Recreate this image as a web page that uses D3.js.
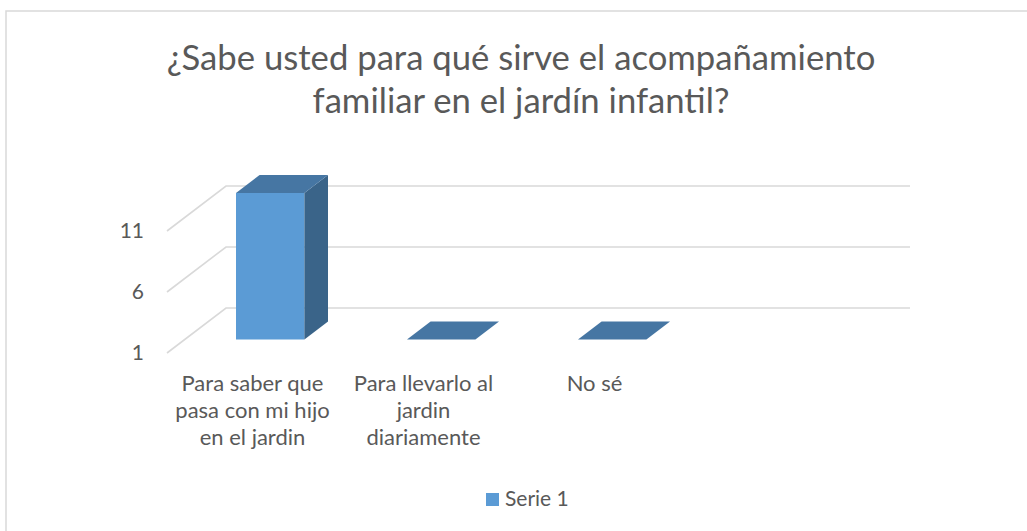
<!DOCTYPE html>
<html>
<head>
<meta charset="utf-8">
<script src="https://cdn.jsdelivr.net/npm/d3@7.9.0/dist/d3.min.js"></script>
<style>
  html, body { margin: 0; padding: 0; background: #fff; }
  svg { display: block; font-family: Lato, "Open Sans", sans-serif; }
</style>
</head>
<body>
<svg id="chart" width="1027" height="531"></svg>
<script>
// data
const titleLines = ["¿Sabe usted para qué sirve el acompañamiento", "familiar en el jardín infantil?"];
const categories = ["Para saber que pasa con mi hijo en el jardin", "Para llevarlo al jardin diariamente", "No sé", ""];
const serie1 = [13, 0, 0, null];
const yTicks = [1, 6, 11];
const seriesName = "Serie 1";

const svg = d3.select('#chart');
const textColor = '#595959';
const gridColor = '#d9d9d9';

// chart frame (only top and left edges show)
svg.append('rect')
    .attr('x', 6).attr('y', 11)
    .attr('width', 1040).attr('height', 540)
    .attr('fill', 'none')
    .attr('stroke', gridColor)
    .attr('stroke-width', 1.5);

// title, sized so the first line has the same width as the picture
const title = svg.append('text')
    .attr('text-anchor', 'middle')
    .attr('fill', textColor)
    .attr('font-size', 32);
titleLines.forEach((line, i) => {
    title.append('tspan')
        .attr('x', 521)
        .attr('y', 70 + i * 43)
        .text(line);
});
let w = title.select('tspan').node().getComputedTextLength();
title.attr('font-size', 32 * 709 / w);

// 3D scales: front floor plane + depth offset
const x = d3.scaleBand()
    .domain(d3.range(categories.length))
    .range([167, 851])
    .paddingInner(0.6)
    .paddingOuter(0.3);

const y = d3.scaleLinear()
    .domain([1, 11])
    .range([353, 231]);

const depthX = 59, depthY = -45;
const barFront = 0.3, barBack = 0.7;

// gridlines: side wall diagonal then back wall
const grid = svg.append('g');
yTicks.forEach(t => {
    grid.append('polyline')
        .attr('points', [
            [x.range()[0], y(t)],
            [x.range()[0] + depthX, y(t) + depthY],
            [x.range()[1] + depthX, y(t) + depthY]
        ].map(p => p.join(',')).join(' '))
        .attr('fill', 'none')
        .attr('stroke', gridColor)
        .attr('stroke-width', 1.6);
});

// y axis labels
svg.append('g')
    .selectAll('text')
    .data(yTicks)
    .join('text')
    .attr('x', 144)
    .attr('y', d => y(d))
    .attr('dy', '0.35em')
    .attr('text-anchor', 'end')
    .attr('fill', textColor)
    .attr('font-size', 21)
    .text(d => d);

// bars
const frontCol = '#5b9bd5', topCol = '#4676a3', sideCol = '#3a6489';
const bars = svg.append('g');
serie1.forEach((v, i) => {
    if (v == null) return;
    const x0 = x(i), x1 = x(i) + x.bandwidth();
    const yb = y(1), yt = y(Math.max(v, 1));
    const fx = barFront * depthX, fy = barFront * depthY;
    const bx = barBack * depthX, by = barBack * depthY;
    const poly = (pts, col) => bars.append('polygon')
        .attr('points', pts.map(p => p.join(',')).join(' '))
        .attr('fill', col);

    if (yt < yb) {
        // front face
        poly([[x0 + fx, yb + fy], [x1 + fx, yb + fy], [x1 + fx, yt + fy], [x0 + fx, yt + fy]], frontCol);
        // right side
        poly([[x1 + fx, yb + fy], [x1 + bx, yb + by], [x1 + bx, yt + by], [x1 + fx, yt + fy]], sideCol);
    }
    // top face
    poly([[x0 + fx, yt + fy], [x1 + fx, yt + fy], [x1 + bx, yt + by], [x0 + bx, yt + by]], topCol);
});

// category labels with wrapping
const catLabels = svg.append('g')
    .selectAll('text')
    .data(categories)
    .join('text')
    .attr('text-anchor', 'middle')
    .attr('fill', textColor)
    .attr('font-size', 22);

catLabels.each(function (d, i) {
    const el = d3.select(this);
    const cx = x(i) + x.bandwidth() / 2;
    const words = d.split(' ');
    let lines = [], cur = [];
    const probe = el.append('tspan');
    words.forEach(word => {
        const test = cur.concat(word).join(' ');
        probe.text(test);
        if (cur.length && probe.node().getComputedTextLength() > 165) {
            lines.push(cur.join(' '));
            cur = [word];
        } else {
            cur.push(word);
        }
    });
    if (cur.length) lines.push(cur.join(' '));
    probe.remove();
    lines.forEach((line, k) => {
        el.append('tspan')
            .attr('x', cx)
            .attr('y', 391 + k * 27)
            .text(line);
    });
});

// legend
const legend = svg.append('g');
legend.append('rect')
    .attr('x', 486).attr('y', 493)
    .attr('width', 13).attr('height', 13)
    .attr('fill', frontCol);
legend.append('text')
    .attr('x', 505).attr('y', 506)
    .attr('fill', textColor)
    .attr('font-size', 21)
    .text(seriesName);
</script>
</body>
</html>
